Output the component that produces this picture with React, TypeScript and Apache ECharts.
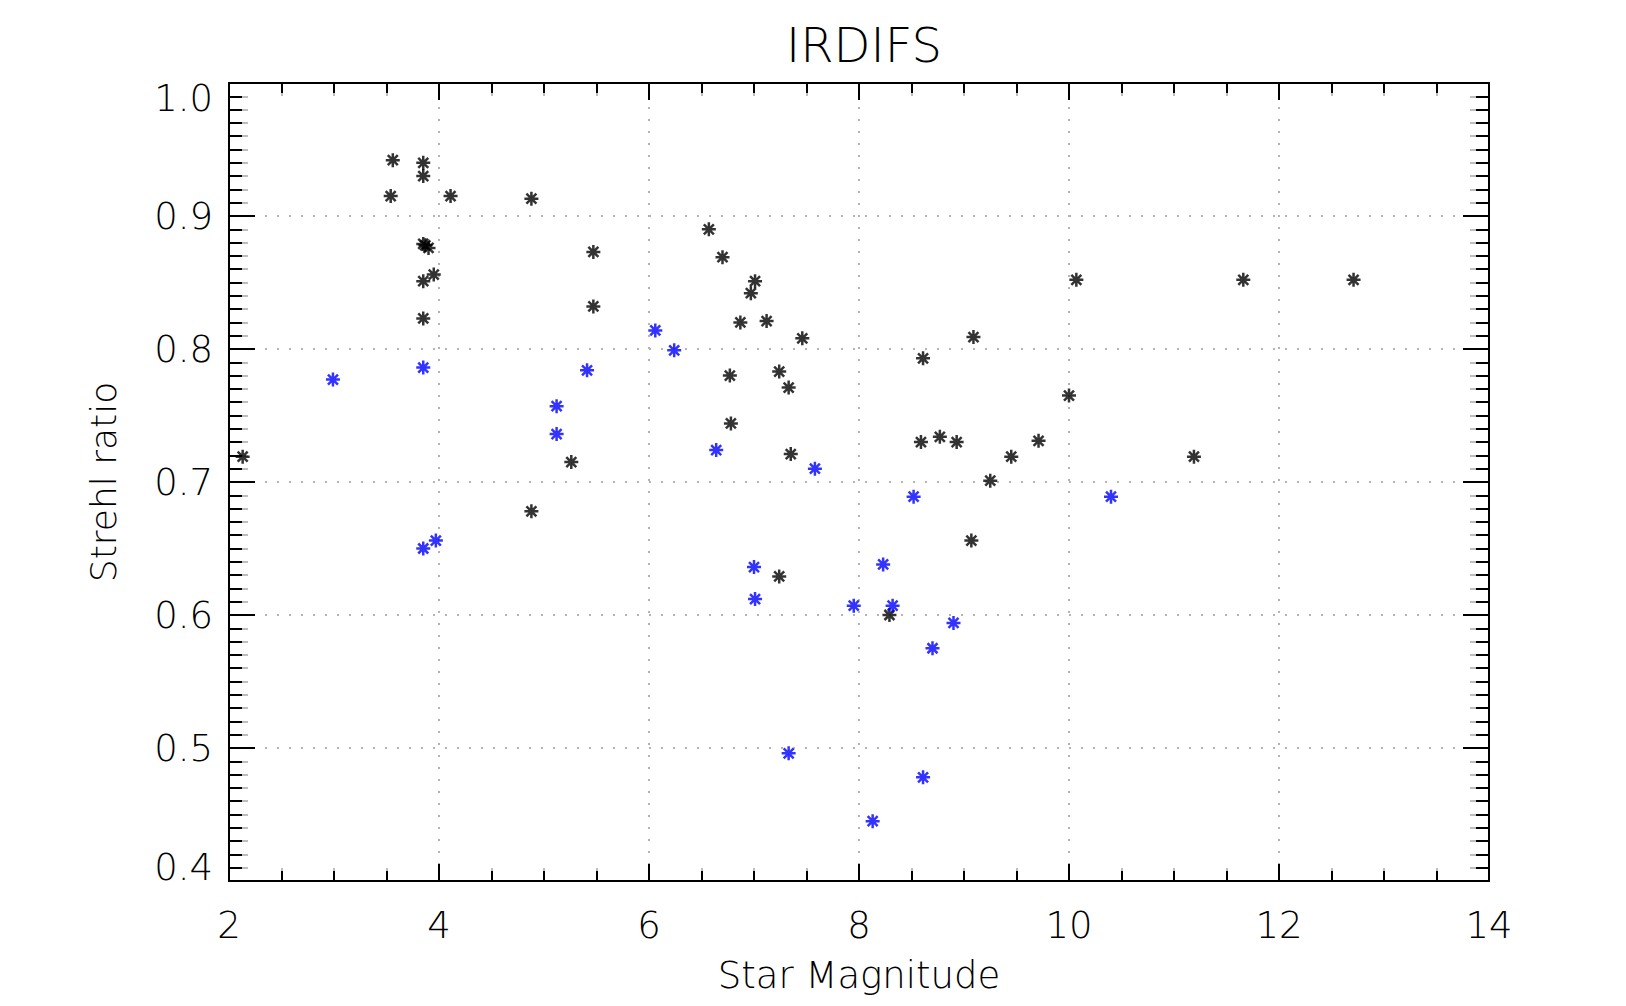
import React, { useEffect, useRef } from "react";
import * as echarts from "echarts";

// Star magnitude (x) and Strehl ratio (y)
const blackMag = [
  2.13, 3.56, 3.54, 3.85, 3.85, 4.11, 4.88, 3.85, 3.87, 3.9, 3.85, 3.95, 3.85,
  5.47, 5.47, 5.26, 4.88, 6.57, 6.7, 7.01, 6.97, 6.87, 7.12, 7.46, 6.77, 7.24,
  7.33, 6.78, 7.35, 7.24, 8.29, 8.61, 8.59, 8.77, 8.93, 9.09, 9.45, 9.25, 9.07,
  9.71, 10.0, 10.07, 11.19, 11.66, 12.71,
];
const blackStrehl = [
  0.719, 0.942, 0.915, 0.94, 0.93, 0.915, 0.913, 0.879, 0.878, 0.876, 0.851,
  0.856, 0.823, 0.873, 0.832, 0.715, 0.678, 0.89, 0.869, 0.851, 0.842, 0.82,
  0.821, 0.808, 0.78, 0.783, 0.771, 0.744, 0.721, 0.629, 0.6, 0.793, 0.73,
  0.734, 0.73, 0.809, 0.719, 0.701, 0.656, 0.731, 0.765, 0.852, 0.719, 0.852,
  0.852,
];
const blueMag = [
  2.99, 3.85, 3.85, 3.97, 5.12, 5.12, 5.41, 6.06, 6.24, 6.64, 7.58, 7.0, 7.01,
  7.33, 7.95, 8.23, 8.32, 8.52, 8.9, 8.7, 8.61, 8.13, 10.4,
];
const blueStrehl = [
  0.777, 0.786, 0.65, 0.656, 0.757, 0.736, 0.784, 0.814, 0.799, 0.724, 0.71,
  0.636, 0.612, 0.496, 0.607, 0.638, 0.607, 0.689, 0.594, 0.575, 0.478, 0.445,
  0.689,
];

const titleText = "IRDIFS";
const xName = "Star Magnitude";
const yName = "Strehl ratio";
const xMin = 2, xMax = 14, xStep = 2;
const yMin = 0.4, yMax = 1.0, yStep = 0.1;

const FONT = "'DejaVu Sans', sans-serif";
const STAR = "path://M0,7L14,7M7,0L7,14M2,2L12,12M12,2L2,12";

export default function App() {
  const ref = useRef<HTMLDivElement>(null);
  useEffect(() => {
    if (!ref.current) return;
    const chart = echarts.init(ref.current, undefined, { renderer: "svg" });
    const pair = (xs: number[], ys: number[]) => xs.map((x, i) => [x, ys[i]]);
    const lbl = { fontFamily: FONT, fontSize: 37, fontWeight: 200 as any, color: "#000" };
    const black = { color: "#000", width: 2 };
    const gray = { color: "#bdbdbd", width: 2 };
    const xRange = { type: "value", min: xMin, max: xMax, interval: xStep };
    const yRange = { type: "value", min: yMin, max: yMax, interval: yStep };
    const mainX = {
      ...xRange,
      z: 2,
      axisLine: { show: true, onZero: false, lineStyle: { color: "#000", width: 2 } },
      axisTick: { show: true, inside: true, length: 17, lineStyle: black },
      minorTick: { show: true, splitNumber: 4, length: 10, lineStyle: black },
    };
    const tailX = {
      ...xRange,
      z: 1,
      axisLine: { show: false },
      axisTick: { show: false, inside: true },
      axisLabel: { show: false },
      splitLine: { show: false },
      minorTick: { show: true, splitNumber: 4, length: 13, lineStyle: gray },
    };
    const mainY = {
      ...yRange,
      z: 2,
      axisLine: { show: true, onZero: false, lineStyle: { color: "#000", width: 2 } },
      axisTick: { show: true, inside: true, length: 26, lineStyle: black },
      minorTick: { show: true, splitNumber: 10, length: 13, lineStyle: black },
    };
    const tailY = {
      ...yRange,
      z: 1,
      axisLine: { show: false },
      axisTick: { show: false, inside: true },
      axisLabel: { show: false },
      splitLine: { show: false },
      minorTick: { show: true, splitNumber: 10, length: 19, lineStyle: gray },
    };
    const grid = { type: [2, 10], color: "#b4b4b4", width: 2 };
    const near = (a: number, b: number) => Math.abs(a - b) < 1e-6;
    chart.setOption({
      animation: false,
      backgroundColor: "#fff",
      title: {
        text: titleText,
        left: 859,
        textAlign: "center",
        top: 16,
        textStyle: { fontFamily: FONT, fontSize: 48, fontWeight: 200 as any, color: "#000" },
      },
      grid: { left: 229, right: 137, top: 83, bottom: 125, outerBoundsMode: "none" } as any,
      xAxis: [
        {
          ...mainX,
          position: "bottom",
          name: xName,
          nameLocation: "middle",
          nameGap: 76,
          nameTextStyle: lbl,
          axisLabel: { ...lbl, margin: 26 },
          splitLine: { show: true, lineStyle: grid },
        },
        { ...mainX, position: "top", axisLabel: { show: false }, splitLine: { show: false } },
        { ...tailX, position: "bottom" },
        { ...tailX, position: "top" },
      ],
      yAxis: [
        {
          ...mainY,
          position: "left",
          name: yName,
          nameLocation: "middle",
          nameGap: 108,
          nameRotate: 90,
          nameTextStyle: { ...lbl, fontSize: 36 },
          axisLabel: {
            ...lbl,
            margin: 16,
            formatter: (v: number) => {
              const s = v.toFixed(1);
              if (near(v, yMax)) return `{hi|${s}}`;
              if (near(v, yMin)) return `{lo|${s}}`;
              return s;
            },
            rich: {
              hi: { ...lbl, padding: [30, 0, 0, 0] },
              lo: { ...lbl, padding: [0, 0, 28, 0] },
            },
          },
          splitLine: { show: true, lineStyle: grid },
        },
        { ...mainY, position: "right", axisLabel: { show: false }, splitLine: { show: false } },
        { ...tailY, position: "left" },
        { ...tailY, position: "right" },
      ],
      series: [
        {
          type: "scatter",
          xAxisIndex: 0,
          yAxisIndex: 0,
          z: 3,
          data: pair(blackMag, blackStrehl),
          symbol: STAR,
          symbolSize: 14,
          itemStyle: { color: "#000", borderColor: "#000", borderWidth: 2.5 },
        },
        {
          type: "scatter",
          xAxisIndex: 0,
          yAxisIndex: 0,
          z: 3,
          data: pair(blueMag, blueStrehl),
          symbol: STAR,
          symbolSize: 14,
          itemStyle: { color: "#0000ff", borderColor: "#0000ff", borderWidth: 2.5 },
        },
      ],
    });
    return () => chart.dispose();
  }, []);
  return (
    <div
      ref={ref}
      style={{ position: "fixed", left: 0, top: 0, width: 1626, height: 1006, background: "#fff" }}
    />
  );
}
